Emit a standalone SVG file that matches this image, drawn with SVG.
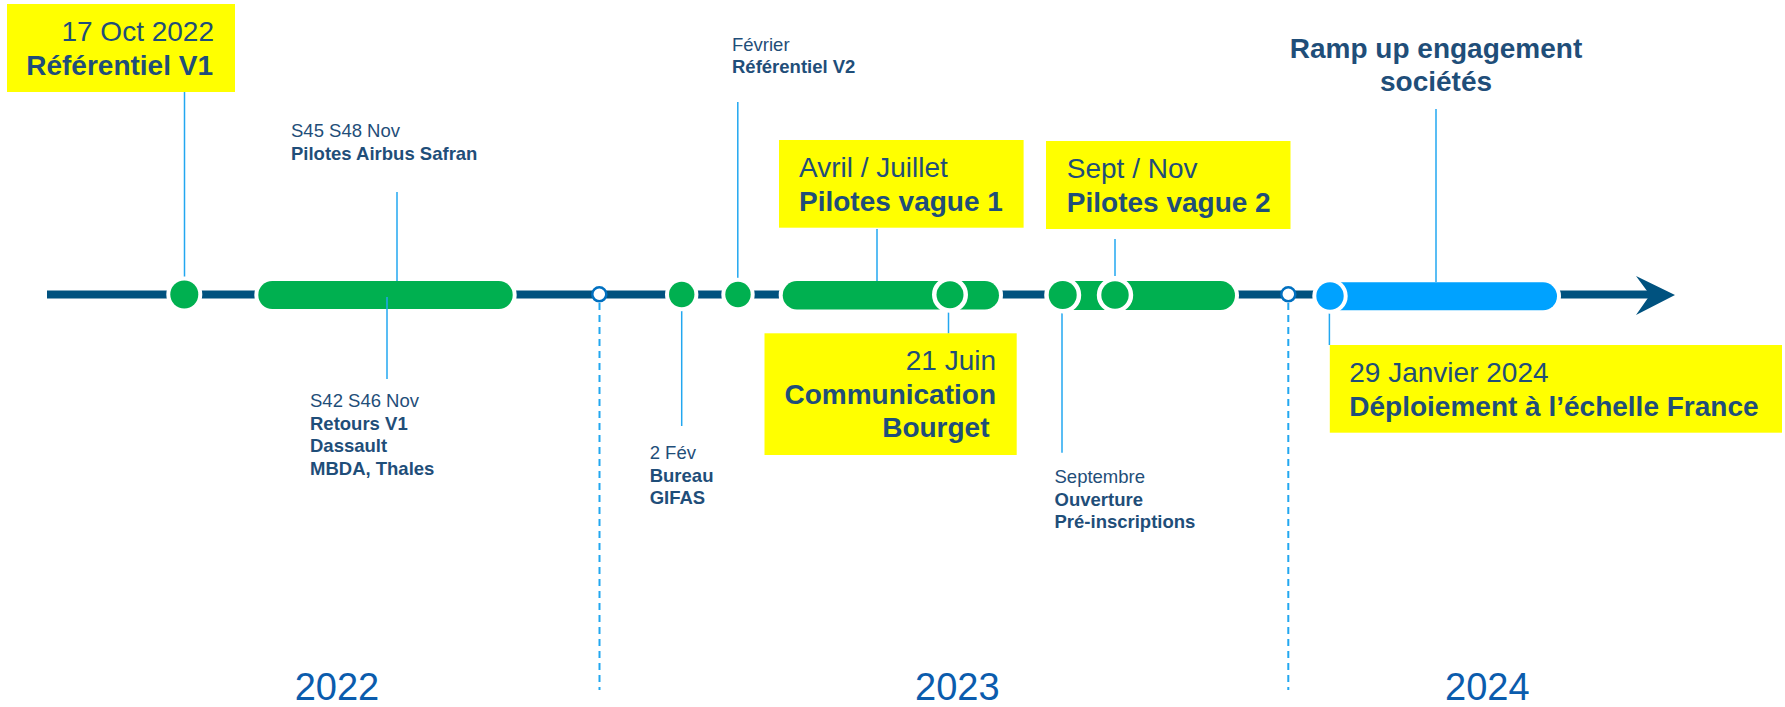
<svg xmlns="http://www.w3.org/2000/svg" width="1785" height="707" viewBox="0 0 1785 707">
<style>
text{font-family:"Liberation Sans",Arial,sans-serif;fill:#1f4e79}
.b{font-weight:bold}
.big{font-size:28px}
.bigb{font-size:28px;font-weight:bold}
.sm{font-size:18.5px}
.smb{font-size:18.5px;font-weight:bold}
.yr{font-size:38px;fill:#0b5cad}
.box{fill:#ffff00}
.g{fill:#00b050;stroke:#fff;stroke-width:8;paint-order:stroke}
.gr{fill:#00b050;stroke:#fff;stroke-width:9;paint-order:stroke}
.bl{fill:#00a2ff;stroke:#fff;stroke-width:8;paint-order:stroke}
.blr{fill:#00a2ff;stroke:#fff;stroke-width:8;paint-order:stroke}
.hol{fill:#fff;stroke:#0070c0;stroke-width:2.5}
.c{stroke:#22a7f0;stroke-width:1.5;fill:none}
.d{stroke:#22a7f0;stroke-width:2;stroke-dasharray:7 5;fill:none}
</style>
<rect width="1785" height="707" fill="#fff"/>
<g id="axis">
<line x1="47" y1="294.5" x2="1652" y2="294.5" stroke="#00527f" stroke-width="8"/>
<path d="M1636,276 L1675,295 L1636,315 L1650,295 Z" fill="#00527f"/>
</g>
<g id="bars">
<rect id="bar1" class="g" x="258.3" y="281" width="254.4" height="28" rx="14"/>
<rect id="bar2" class="g" x="782.7" y="281" width="216.3" height="28.5" rx="14.25"/>
<rect id="bar3" class="g" x="1058" y="281" width="177" height="29" rx="14.5"/>
<rect id="bar4" class="bl" x="1326" y="282.3" width="231" height="28" rx="14"/>
</g>
<g id="connectors">
<line class="c" x1="184.5" y1="92" x2="184.5" y2="280"/>
<line class="c" x1="397" y1="192" x2="397" y2="281"/>
<line class="c" x1="387" y1="297" x2="387" y2="379"/>
<line class="d" x1="599.5" y1="303" x2="599.5" y2="690"/>
<line class="c" x1="681.7" y1="309" x2="681.7" y2="426"/>
<line class="c" x1="737.8" y1="102" x2="737.8" y2="281"/>
<line class="c" x1="877" y1="229" x2="877" y2="281"/>
<line class="c" x1="948.5" y1="311" x2="948.5" y2="333.5"/>
<line class="c" x1="1062" y1="312" x2="1062" y2="452.7"/>
<line class="c" x1="1115" y1="239" x2="1115" y2="276"/>
<line class="d" x1="1288.3" y1="303" x2="1288.3" y2="690"/>
<line class="c" x1="1329.4" y1="312" x2="1329.4" y2="345"/>
<line class="c" x1="1436" y1="109" x2="1436" y2="282"/>
</g>
<g id="dots">
<circle id="dot1" class="g" cx="184.3" cy="294.5" r="14"/>
<circle id="hollow1" class="hol" cx="599.3" cy="294.3" r="7"/>
<circle id="dot2" class="g" cx="681.7" cy="294.5" r="12.7"/>
<circle id="dot3" class="g" cx="738" cy="294.5" r="12.7"/>
<circle id="dot4" class="gr" cx="950" cy="294.8" r="13.5"/>
<circle id="dot5" class="gr" cx="1062.7" cy="295" r="14"/>
<circle id="dot6" class="gr" cx="1115" cy="295" r="13.7"/>
<circle id="hollow2" class="hol" cx="1288.3" cy="294.3" r="7"/>
<circle id="dot7" class="blr" cx="1330" cy="296" r="13.7"/>
</g>
<g id="n-ref-v1">
<rect class="box" x="7" y="4" width="228" height="88"/>
<text class="big" x="214" y="41" text-anchor="end">17 Oct 2022</text>
<text class="bigb" x="213" y="75" text-anchor="end">Référentiel V1</text>
</g>
<g id="n-pilotes-airbus">
<text class="sm" x="291" y="137">S45 S48 Nov</text>
<text class="smb" x="291" y="160">Pilotes Airbus Safran</text>
</g>
<g id="n-retours">
<text class="sm" x="310" y="407.3">S42 S46 Nov</text>
<text class="smb" x="310" y="430">Retours V1</text>
<text class="smb" x="310" y="452.3">Dassault</text>
<text class="smb" x="310" y="475">MBDA, Thales</text>
</g>
<g id="n-bureau">
<text class="sm" x="649.7" y="459.3">2 Fév</text>
<text class="smb" x="649.7" y="481.7">Bureau</text>
<text class="smb" x="649.7" y="504">GIFAS</text>
</g>
<g id="n-ref-v2">
<text class="sm" x="732" y="50.7">Février</text>
<text class="smb" x="732" y="73.3">Référentiel V2</text>
</g>
<g id="n-vague1">
<rect class="box" x="779" y="140" width="244.6" height="87.7"/>
<text class="big" x="799" y="176.7">Avril / Juillet</text>
<text class="bigb" x="799" y="210.7">Pilotes vague 1</text>
</g>
<g id="n-bourget">
<rect class="box" x="764.5" y="333.3" width="252.2" height="121.7"/>
<text class="big" x="996" y="370" text-anchor="end">21 Juin</text>
<text class="bigb" x="996" y="404" text-anchor="end">Communication</text>
<text class="bigb" x="989.5" y="436.7" text-anchor="end">Bourget</text>
</g>
<g id="n-septembre">
<text class="sm" x="1054.5" y="483.3">Septembre</text>
<text class="smb" x="1054.5" y="505.7">Ouverture</text>
<text class="smb" x="1054.5" y="528.3">Pré-inscriptions</text>
</g>
<g id="n-vague2">
<rect class="box" x="1046" y="141" width="244.5" height="88"/>
<text class="big" x="1066.8" y="178.3">Sept / Nov</text>
<text class="bigb" x="1066.8" y="211.7">Pilotes vague 2</text>
</g>
<g id="n-rampup">
<text class="bigb" x="1436" y="58.3" text-anchor="middle">Ramp up engagement</text>
<text class="bigb" x="1436" y="90.7" text-anchor="middle">sociétés</text>
</g>
<g id="n-deploiement">
<rect class="box" x="1329.8" y="345" width="452.2" height="87.7"/>
<text class="big" x="1349.3" y="381.7">29 Janvier 2024</text>
<text class="bigb" x="1349.3" y="416">Déploiement à l’échelle France</text>
</g>
<g id="years">
<text class="yr" x="294.7" y="700">2022</text>
<text class="yr" x="915" y="700">2023</text>
<text class="yr" x="1445" y="700">2024</text>
</g>
</svg>
